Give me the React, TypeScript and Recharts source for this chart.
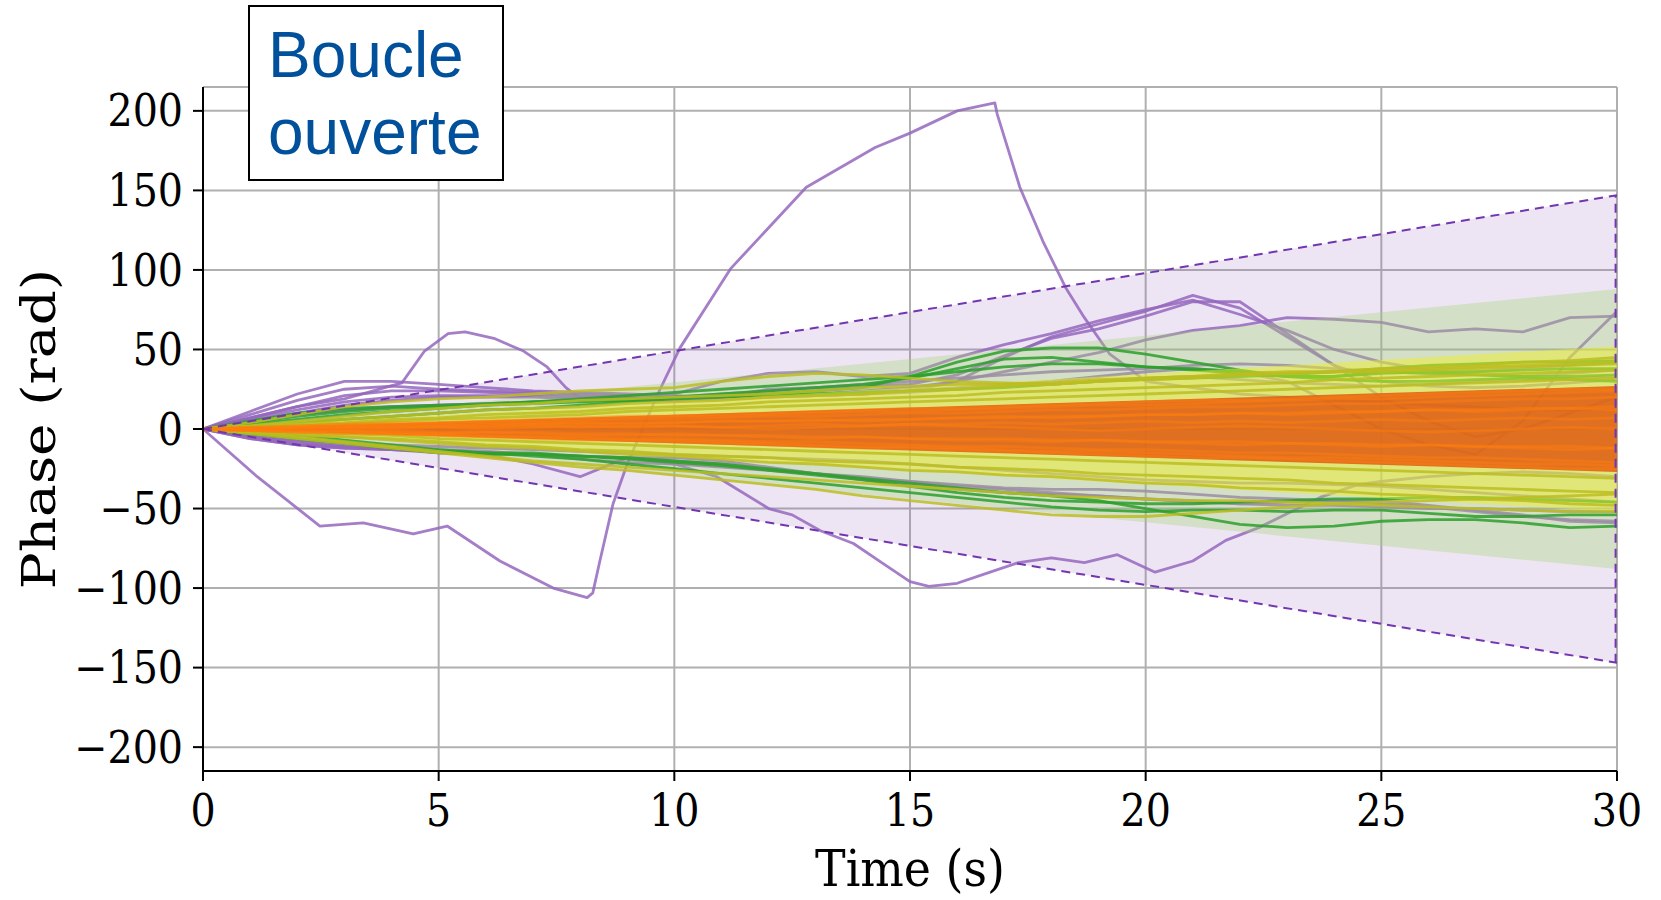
import { ComposedChart, Line, Area, XAxis, YAxis, CartesianGrid } from 'recharts';

// time base for the sampled runs (s)
const time = [0, 1, 2, 3, 4, 5, 6, 7, 8, 9, 10, 11, 12, 13, 14, 15, 16, 17, 18, 19, 20, 21, 22, 23, 24, 25, 26, 27, 28, 29, 30];

// orange runs (tight spread)
const orange1 = [0, 1, 2, 3, 3, 4, 5, 5, 6, 7, 8, 8, 9, 10, 11, 11, 12, 13, 14, 15, 15, 16, 17, 18, 19, 19, 20, 21, 22, 23, 24];
const orange2 = [0, -1, -2, -2, -3, -4, -5, -5, -6, -7, -7, -8, -9, -10, -11, -11, -12, -13, -14, -14, -15, -16, -17, -18, -18, -19, -20, -21, -22, -22, -23];
const orange3 = [0, 0, 1, 2, 1, 2, 3, 3, 4, 3, 4, 5, 5, 6, 5, 6, 7, 8, 7, 8, 9, 9, 10, 9, 10, 11, 12, 11, 12, 13, 12];
const orange4 = [0, -1, -1, -1, -2, -3, -2, -3, -4, -4, -3, -4, -5, -6, -5, -6, -7, -7, -8, -7, -8, -9, -10, -9, -10, -11, -10, -11, -12, -13, -12];
const orange5 = [0, 1, 1, 2, 3, 3, 4, 4, 5, 6, 6, 7, 8, 8, 9, 10, 10, 11, 12, 12, 13, 14, 14, 15, 16, 16, 17, 18, 19, 19, 20];
const orange6 = [0, 0, 0, 1, 0, 1, 1, 2, 1, 2, 2, 1, 2, 3, 2, 3, 3, 4, 3, 4, 5, 4, 5, 4, 5, 6, 5, 6, 7, 6, 7];
const orange7 = [0, -1, -2, -2, -3, -3, -4, -5, -5, -6, -6, -7, -8, -8, -9, -10, -11, -11, -12, -13, -13, -14, -15, -15, -16, -17, -18, -18, -19, -20, -21];
const orange8 = [0, 1, 2, 3, 4, 4, 5, 6, 7, 8, 8, 9, 10, 11, 12, 13, 13, 14, 15, 16, 17, 18, 18, 19, 20, 21, 22, 23, 24, 25, 25];
const orange9 = [0, -1, -2, -3, -3, -4, -5, -6, -7, -7, -8, -9, -10, -11, -12, -12, -13, -14, -15, -16, -17, -18, -18, -19, -20, -21, -22, -23, -24, -25, -25];
const orange10 = [0, 0, 1, 1, 2, 2, 2, 3, 3, 4, 4, 5, 5, 5, 6, 6, 7, 7, 8, 8, 9, 9, 10, 10, 11, 11, 12, 12, 13, 13, 14];
const orange11 = [0, 0, -1, -1, -1, -2, -2, -2, -3, -3, -4, -4, -4, -5, -5, -6, -6, -6, -7, -7, -8, -8, -8, -9, -9, -10, -10, -11, -11, -11, -12];
const orange12 = [0, 0, 1, 0, 1, 1, 0, 1, 2, 1, 2, 1, 0, 1, 2, 3, 2, 1, 0, -1, 0, 1, 2, 1, 0, -1, -2, -1, 0, 1, 0];

// olive runs
const olive1 = [0, 2, 4, 6, 8, 10, 12, 13, 14, 16, 17, 18, 20, 21, 22, 24, 25, 27, 28, 30, 31, 32, 34, 35, 36, 38, 39, 40, 42, 43, 45];
const olive2 = [0, 2, 5, 8, 11, 13, 15, 16, 18, 19, 20, 21, 22, 24, 26, 27, 28, 28, 29, 31, 32, 33, 34, 35, 36, 36, 37, 38, 39, 40, 41];
const olive3 = [0, 1, 3, 4, 6, 7, 9, 10, 11, 13, 14, 15, 17, 18, 19, 20, 21, 23, 24, 25, 26, 27, 28, 29, 31, 32, 33, 34, 35, 36, 37];
const olive4 = [0, -2, -4, -5, -7, -9, -11, -12, -14, -16, -17, -19, -21, -22, -24, -26, -27, -29, -30, -32, -34, -35, -37, -38, -39, -41, -42, -44, -45, -47, -48];
const olive5 = [0, -3, -6, -9, -12, -15, -18, -21, -24, -26, -29, -32, -35, -38, -42, -45, -48, -51, -54, -55, -55, -53, -51, -49, -47, -46, -45, -44, -43, -42, -41];
const olive6 = [0, -1, -3, -5, -6, -8, -10, -11, -13, -14, -16, -17, -18, -20, -21, -22, -24, -25, -26, -28, -29, -30, -31, -32, -34, -35, -36, -37, -38, -39, -40];
const olive7 = [0, 4, 9, 14, 17, 19, 20, 22, 24, 25, 26, 30, 33, 35, 34, 32, 30, 29, 28, 30, 32, 33, 35, 36, 36, 37, 38, 39, 40, 41, 42];
const olive8 = [0, 1, 2, 3, 5, 6, 7, 8, 9, 11, 12, 13, 14, 15, 16, 17, 18, 19, 20, 21, 22, 23, 24, 25, 26, 27, 28, 29, 30, 31, 32];
const olive9 = [0, -2, -5, -8, -11, -14, -17, -20, -22, -24, -26, -28, -30, -32, -34, -36, -38, -40, -42, -43, -44, -45, -45, -46, -47, -48, -49, -50, -51, -52, -52];
const olive10 = [0, -1, -2, -3, -4, -6, -7, -8, -9, -10, -11, -12, -13, -14, -15, -16, -17, -18, -19, -20, -21, -22, -23, -24, -25, -26, -27, -28, -29, -30, -31];

// green runs
const green1 = [0, 5, 10, 13, 14, 15, 16, 17, 18, 19, 20, 21, 22, 24, 26, 33, 42, 49, 51, 51, 47, 42, 37, 33, 33, 36, 35, 34, 33, 33, 34];
const green2 = [0, 4, 8, 11, 13, 14, 15, 16, 17, 18, 20, 22, 24, 26, 28, 32, 38, 44, 45, 42, 39, 38, 36, 33, 31, 30, 30, 31, 32, 31, 30];
const green3 = [0, -3, -6, -9, -12, -15, -16, -16, -17, -18, -20, -22, -25, -28, -31, -34, -37, -40, -42, -45, -50, -55, -60, -62, -61, -58, -57, -57, -59, -62, -61];
const green4 = [0, -2, -4, -7, -10, -13, -15, -17, -19, -22, -25, -28, -31, -34, -37, -40, -43, -46, -49, -51, -52, -51, -51, -52, -51, -51, -53, -55, -55, -54, -54];
const green5 = [0, 3, 6, 9, 11, 13, 15, 17, 19, 21, 23, 25, 27, 29, 31, 33, 36, 39, 41, 41, 39, 37, 35, 33, 33, 35, 36, 36, 37, 38, 38];
const green6 = [0, -3, -6, -9, -12, -14, -15, -15, -17, -19, -21, -23, -26, -29, -32, -36, -40, -43, -45, -46, -47, -47, -46, -45, -44, -44, -43, -43, -44, -45, -46];
const green7 = [0, 2, 4, 6, 8, 10, 12, 13, 15, 17, 19, 20, 21, 22, 23, 24, 25, 26, 28, 30, 31, 32, 33, 34, 36, 38, 40, 41, 42, 42, 43];

// purple runs
const purpleA = [0, 11, 22, 30, 30, 28, 26, 24, 23, 22, 21, 20, 20, 21, 22, 24, 30, 45, 58, 66, 74, 84, 76, 58, 40, 30, 27, 26, 27, 29, 31];
const purpleB = [0, 9, 18, 25, 27, 25, 24, 23, 22, 21, 22, 30, 35, 36, 33, 35, 45, 53, 60, 68, 75, 81, 72, 62, 50, 42, 37, 34, 33, 35, 37];
const purpleC = [0, 7, 14, 21, 24, 24, 23, 22, 21, 20, 19, 20, 25, 26, 27, 28, 34, 46, 57, 63, 71, 80, 80, 60, 40, 20, 5, -5, 0, 10, 20];
const purpleD = [0, 6, 12, 17, 20, 21, 21, 21, 20, 19, 18, 19, 20, 22, 24, 26, 30, 36, 42, 48, 56, 62, 65, 70, 69, 67, 61, 63, 61, 70, 71];
const purpleE = [0, 5, 10, 15, 18, 20, 20, 20, 19, 18, 18, 19, 20, 21, 22, 24, 26, 28, 30, 33, 36, 38, 36, 30, 15, 0, -10, -16, 5, 45, 74];
const purpleF = [0, -6, -10, -12, -13, -14, -15, -16, -17, -18, -20, -22, -25, -28, -31, -33, -35, -37, -38, -38, -39, -41, -43, -44, -45, -45, -48, -51, -54, -58, -59];
const purpleG = [0, -5, -9, -11, -13, -15, -16, -22, -30, -18, -18, -20, -24, -28, -32, -35, -38, -40, -41, -42, -44, -46, -47, -46, -45, -47, -49, -52, -55, -57, -58];
const purpleH = [0, -5, -8, -11, -12, -13, -14, -16, -19, -21, -22, -24, -26, -28, -30, -33, -36, -38, -40, -42, -44, -45, -47, -48, -48, -49, -50, -50, -51, -52, -52];
const purpleI = [0, -4, -7, -9, -10, -11, -12, -13, -14, -15, -16, -17, -18, -19, -20, -22, -24, -26, -28, -30, -32, -33, -34, -34, -35, -36, -38, -40, -42, -44, -46];
const purpleJ = [0, 5, 9, 12, 14, 15, 16, 17, 18, 19, 20, 22, 24, 26, 28, 30, 32, 34, 36, 37, 38, 40, 41, 40, 38, 36, 35, 36, 38, 40, 42];

// the three big purple excursions, with their own time stamps
const swingTime = [0, 1.15, 2.48, 3.4, 4.46, 5.18, 6.3, 7.43, 8.15, 8.27, 8.42, 8.7, 9, 9.65, 10.12, 11.2, 12.8, 14.26, 15, 16, 16.8, 16.85, 17.33, 17.82, 18.3, 18.7, 19.24, 19.7, 20, 21, 22, 23, 24, 25, 26, 27, 28, 29, 30];
const swing = [0, -30, -61, -59, -66, -61, -83, -100, -106, -103, -83, -47, -22, 22, 51, 101, 152, 177, 186, 200, 205, 198, 152, 118, 89, 70, 47, 37, 30, 26, 22, 20, 18, 17, 15, 14, 12, 12, 13];
const dipTime = [0, 1, 2, 3, 4, 5, 6, 7, 8, 9, 10, 10.9, 12, 12.5, 13.1, 13.8, 14.4, 15, 15.4, 16, 16.7, 17.3, 18, 18.7, 19.4, 20.2, 21, 21.7, 22.4, 23.7, 24.5, 25, 26, 27, 28, 29, 30];
const dip = [0, -6, -10, -12, -13, -14, -15, -16, -17, -18, -22, -30, -50, -54, -64, -72, -84, -96, -99, -97, -90, -84, -81, -84, -79, -90, -83, -70, -62, -43, -35, -33, -30, -28, -27, -28, -30];
const humpTime = [0, 1, 2, 3, 3.5, 4.22, 4.7, 5.2, 5.56, 6.17, 6.8, 7.3, 7.7, 7.96, 8.5, 9, 10, 11, 12, 13, 14, 15, 16, 17, 18, 19, 20, 21, 22, 23, 24, 25, 26, 27, 28, 29, 30];
const hump = [0, 7, 14, 19, 23, 29, 49, 60, 61, 57, 49, 39, 26, 20, 18, 18, 18, 19, 20, 21, 22, 23, 25, 27, 28, 30, 32, 33, 31, 29, 28, 27, 28, 30, 31, 32, 33];

// envelopes (half widths at start and end)
const bandTime = [0, 30];
const purpleHalf = [0, 147];
const greenHalf = [0, 88];
const yellowHalf = [0, 52];
const orangeHalf = [0, 27];
const edgeTime = [29.97, 29.97];
const edgeValues = [-147, 147];

const xTicks = [0, 5, 10, 15, 20, 25, 30];
const yTicks = [-200, -150, -100, -50, 0, 50, 100, 150, 200];

const orangeRuns = [orange1, orange2, orange3, orange4, orange5, orange6, orange7, orange8, orange9, orange10, orange11, orange12];
const oliveRuns = [olive1, olive2, olive3, olive4, olive5, olive6, olive7, olive8, olive9, olive10];
const greenRuns = [green1, green2, green3, green4, green5, green6, green7];
const purpleRuns = [purpleA, purpleB, purpleC, purpleD, purpleE, purpleF, purpleG, purpleH, purpleI, purpleJ];

const serifCond = "'DejaVu Serif Condensed', 'DejaVu Serif', serif";

const toPoints = (ts: number[], vs: number[]) => ts.map((t, i) => ({ t, v: vs[i] }));
const toBand = (half: number[]) => bandTime.map((t, i) => ({ t, lo: -half[i], hi: half[i] }));
const minusFmt = (v: number) => (v < 0 ? '\u2212' + Math.abs(v) : String(v));

const runLine = (key: string, pts: { t: number; v: number }[], color: string, opacity: number, z: number) => (
  <Line
    key={key}
    data={pts}
    dataKey="v"
    type="linear"
    stroke={color}
    strokeOpacity={opacity}
    strokeWidth={2.8}
    strokeLinejoin="round"
    dot={false}
    activeDot={false}
    isAnimationActive={false}
    zIndex={z}
  />
);

const band = (key: string, half: number[], fill: string, opacity: number, z: number) => (
  <Area
    key={key}
    data={toBand(half)}
    dataKey={(d: any) => [d.lo, d.hi]}
    type="linear"
    stroke="none"
    fill={fill}
    fillOpacity={opacity}
    isAnimationActive={false}
    activeDot={false}
    zIndex={z}
  />
);

const dashed = (key: string, ts: number[], vs: number[]) => (
  <Line
    key={key}
    data={toPoints(ts, vs)}
    dataKey="v"
    type="linear"
    stroke="#7335b0"
    strokeWidth={2}
    strokeDasharray="9 6"
    dot={false}
    activeDot={false}
    isAnimationActive={false}
    zIndex={109}
  />
);

export default function App() {
  const axisStroke = { stroke: '#000', strokeWidth: 2 };
  return (
    <div style={{ position: 'absolute', left: 0, top: 0, width: 1661, height: 900, background: '#fff' }}>
      <ComposedChart width={1661} height={900} margin={{ top: 87, right: 44, bottom: 0, left: 0 }}>
        <CartesianGrid stroke="#b0b0b0" strokeWidth={2} />
        <XAxis
          dataKey="t"
          type="number"
          domain={[0, 30]}
          ticks={xTicks}
          allowDataOverflow
          height={129}
          tickSize={10}
          tickMargin={14}
          axisLine={axisStroke}
          tickLine={axisStroke}
          tick={{ fontFamily: serifCond, fontSize: 44, fill: '#000' }}
          label={() => (
            <text x={910} y={886} textAnchor="middle" fontFamily={serifCond} fontSize={51} fill="#000">
              Time (s)
            </text>
          )}
        />
        <XAxis xAxisId="top" orientation="top" type="number" domain={[0, 30]} height={0} tick={false} tickLine={false} axisLine={axisStroke} />
        <YAxis
          type="number"
          domain={[-215, 215]}
          ticks={yTicks}
          allowDataOverflow
          width={203}
          tickSize={10}
          tickMargin={10}
          tickFormatter={minusFmt}
          axisLine={axisStroke}
          tickLine={axisStroke}
          tick={{ fontFamily: serifCond, fontSize: 44, fill: '#000' }}
          label={() => (
            <text
              transform="translate(55,429) rotate(-90) scale(1,0.86)"
              x={0}
              y={0}
              textAnchor="middle"
              fontFamily="'DejaVu Serif', serif"
              fontSize={55}
              fill="#000"
            >
              Phase (rad)
            </text>
          )}
        />
        <YAxis yAxisId="right" orientation="right" type="number" domain={[-215, 215]} width={0} tick={false} tickLine={false} axisLine={axisStroke} />

        {band('bandPurple', purpleHalf, '#9467bd', 0.17, 101)}
        {purpleRuns.map((vs, i) => runLine('p' + i, toPoints(time, vs), '#9467bd', 0.85, 102))}
        {runLine('swing', toPoints(swingTime, swing), '#9467bd', 0.85, 102)}
        {runLine('dip', toPoints(dipTime, dip), '#9467bd', 0.85, 102)}
        {runLine('hump', toPoints(humpTime, hump), '#9467bd', 0.85, 102)}

        {band('bandGreen', greenHalf, '#a6d472', 0.35, 103)}
        {greenRuns.map((vs, i) => runLine('g' + i, toPoints(time, vs), '#2ca02c', 0.85, 104))}

        {band('bandYellow', yellowHalf, '#ecef2a', 0.5, 105)}
        {oliveRuns.map((vs, i) => runLine('y' + i, toPoints(time, vs), '#bcbd22', 0.85, 106))}

        {band('bandOrange', orangeHalf, '#df5a12', 0.85, 107)}
        {orangeRuns.map((vs, i) => runLine('o' + i, toPoints(time, vs), '#ff7f0e', 0.45, 108))}

        {dashed('dashTop', bandTime, purpleHalf)}
        {dashed('dashBottom', bandTime, purpleHalf.map((h) => -h))}
        {dashed('dashEdge', edgeTime, edgeValues)}
      </ComposedChart>
      <div
        style={{
          position: 'absolute',
          left: 248,
          top: 5,
          width: 256,
          height: 176,
          boxSizing: 'border-box',
          border: '2px solid #000',
          background: '#fff',
          padding: '10px 0 0 18px',
          fontFamily: "'Liberation Sans', Arial, sans-serif",
          fontSize: 64,
          lineHeight: '77px',
          color: '#00509b',
        }}
      >
        Boucle
        <br />
        ouverte
      </div>
    </div>
  );
}
